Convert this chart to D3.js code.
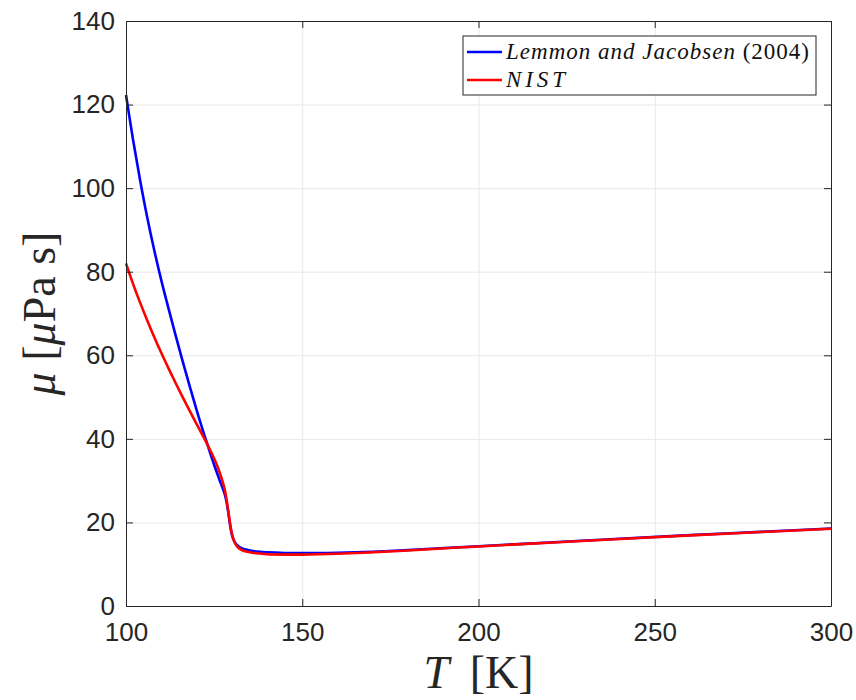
<!DOCTYPE html>
<html>
<head>
<meta charset="utf-8">
<script src="https://cdn.jsdelivr.net/npm/d3@7"></script>
<style>
  body { margin: 0; background: #fff; }
  .axis text { font-family: "Liberation Sans", Arial, sans-serif; font-size: 26px; fill: #262626; }
  .axis path, .axis line { stroke: #262626; }
  .grid line { stroke: #e8e8e8; }
  .grid path { display: none; }
</style>
</head>
<body>
<div id="graph"></div>
<script>
'use strict';

// temperature samples [K]
let tempLemmon = [100, 102, 104, 106, 108, 110, 112, 114, 116, 118, 120, 122, 123, 124, 125, 126, 127, 128, 128.5, 129, 129.5, 130, 130.5, 131, 131.5, 132, 133, 134, 136, 138, 140, 145, 150, 160, 170, 180, 200, 220, 240, 260, 280, 300];
let muLemmon = [122.3, 111.6, 101.9, 93.1, 85.2, 78.0, 71.4, 65.0, 58.8, 52.8, 47.0, 41.5, 38.9, 36.3, 33.8, 31.4, 29.1, 26.8, 25.0, 22.5, 19.5, 17.2, 15.9, 15.1, 14.6, 14.25, 13.8, 13.5, 13.15, 12.95, 12.85, 12.7, 12.65, 12.75, 13.0, 13.4, 14.3, 15.2, 16.1, 16.95, 17.75, 18.55];

let tempNist = [100, 102, 104, 106, 108, 110, 112, 114, 116, 118, 120, 122, 123, 124, 125, 126, 127, 128, 128.5, 129, 129.5, 130, 130.5, 131, 131.5, 132, 133, 134, 136, 138, 140, 145, 150, 160, 170, 180, 200, 220, 240, 260, 280, 300];
let muNist = [82.0, 77.1, 72.6, 68.4, 64.4, 60.6, 57.0, 53.5, 50.1, 46.8, 43.6, 40.4, 38.8, 37.1, 35.3, 33.3, 30.9, 27.9, 25.6, 22.8, 19.9, 17.5, 15.9, 14.9, 14.25, 13.85, 13.35, 13.05, 12.75, 12.55, 12.4, 12.3, 12.3, 12.5, 12.85, 13.3, 14.25, 15.15, 16.05, 16.9, 17.7, 18.5];

let xTicks = [100, 150, 200, 250, 300];
let yTicks = [0, 20, 40, 60, 80, 100, 120, 140];

let w = 856, h = 700;
let margin = {left: 126, right: 25, top: 21, bottom: 94};
let svg = d3.select('#graph').append('svg').attr('width', w).attr('height', h);

let x = d3.scaleLinear().domain([100, 300]).range([margin.left, w - margin.right]);
let y = d3.scaleLinear().domain([0, 140]).range([h - margin.bottom, margin.top]);

// grid
svg.append('g').attr('class', 'grid')
    .attr('transform', 'translate(0,' + (h - margin.bottom) + ')')
    .call(d3.axisBottom(x).tickValues(xTicks).tickSize(-(h - margin.top - margin.bottom)).tickFormat(''));
svg.append('g').attr('class', 'grid')
    .attr('transform', 'translate(' + margin.left + ',0)')
    .call(d3.axisLeft(y).tickValues(yTicks).tickSize(-(w - margin.left - margin.right)).tickFormat(''));

// curves
let line = d3.line().x(d => x(d[0])).y(d => y(d[1])).curve(d3.curveCatmullRom.alpha(0.5));
svg.append('path').datum(d3.zip(tempLemmon, muLemmon))
    .attr('d', line).attr('fill', 'none').attr('stroke', '#0000ff').attr('stroke-width', 2.6);
svg.append('path').datum(d3.zip(tempNist, muNist))
    .attr('d', line).attr('fill', 'none').attr('stroke', '#ff0000').attr('stroke-width', 2.6);

// axes, MATLAB style with inward ticks on all four sides
svg.append('g').attr('class', 'axis')
    .attr('transform', 'translate(0,' + (h - margin.bottom) + ')')
    .call(d3.axisBottom(x).tickValues(xTicks).tickSizeInner(-7).tickSizeOuter(0).tickPadding(17));
svg.append('g').attr('class', 'axis')
    .attr('transform', 'translate(' + margin.left + ',0)')
    .call(d3.axisLeft(y).tickValues(yTicks).tickSizeInner(-7).tickSizeOuter(0).tickPadding(11));
svg.append('g').attr('class', 'axis')
    .attr('transform', 'translate(0,' + margin.top + ')')
    .call(d3.axisTop(x).tickValues(xTicks).tickSizeInner(-7).tickSizeOuter(0).tickFormat(''));
svg.append('g').attr('class', 'axis')
    .attr('transform', 'translate(' + (w - margin.right) + ',0)')
    .call(d3.axisRight(y).tickValues(yTicks).tickSizeInner(-7).tickSizeOuter(0).tickFormat(''));

// axis titles
let xt = svg.append('text')
    .attr('x', (margin.left + w - margin.right) / 2).attr('y', 688)
    .attr('text-anchor', 'middle')
    .style('font-family', '"Liberation Serif", "DejaVu Serif", serif').style('font-size', '46px').style('fill', '#262626');
xt.append('tspan').style('font-style', 'italic').text('T');
xt.append('tspan').text('\u2009 [K]');

let yt = svg.append('text')
    .attr('transform', `translate(55,${(margin.top + h - margin.bottom) / 2})rotate(-90)`)
    .attr('text-anchor', 'middle')
    .style('font-family', '"Liberation Serif", "DejaVu Serif", serif').style('font-size', '46px').style('fill', '#262626');
yt.append('tspan').style('font-style', 'italic').text('μ');
yt.append('tspan').text(' [');
yt.append('tspan').style('font-style', 'italic').text('μ');
yt.append('tspan').text('Pa s]');

// legend
let legend = svg.append('g').attr('transform', 'translate(463,36)');
legend.append('rect').attr('width', 353).attr('height', 59)
    .attr('fill', '#fff').attr('stroke', '#262626').attr('stroke-width', 1);
let entries = [
    {color: '#0000ff', italic: 'Lemmon and Jacobsen', plain: ' (2004)', len: 303, y: 16},
    {color: '#ff0000', italic: 'NIST', plain: '', len: 59, y: 44}
];
entries.forEach(function (e) {
    legend.append('line').attr('x1', 4).attr('x2', 39).attr('y1', e.y).attr('y2', e.y)
        .attr('stroke', e.color).attr('stroke-width', 2.6);
    let t = legend.append('text').attr('x', 43).attr('y', e.y + 7)
        .attr('textLength', e.len).attr('lengthAdjust', 'spacing')
        .style('font-family', '"Liberation Serif", "DejaVu Serif", serif').style('font-size', '23px').style('fill', '#111');
    t.append('tspan').style('font-style', 'italic').text(e.italic);
    if (e.plain) t.append('tspan').text(e.plain);
});
</script>
</body>
</html>
